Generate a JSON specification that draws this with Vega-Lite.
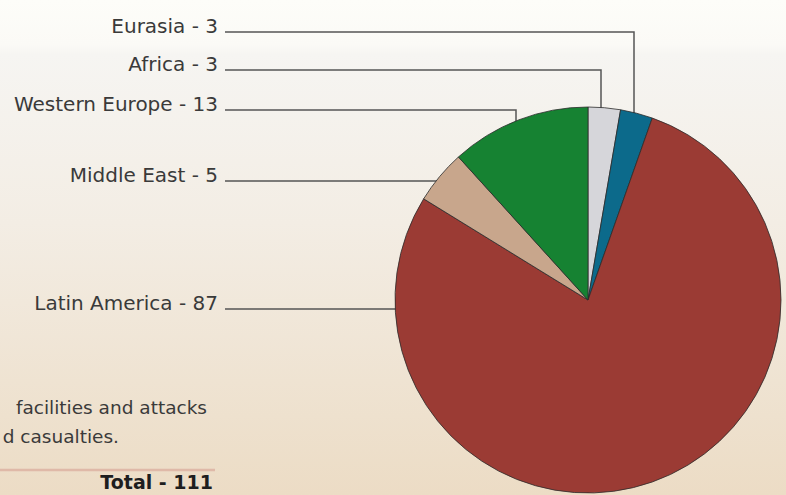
{
  "$schema": "https://vega.github.io/schema/vega-lite/v6.json",
  "width": 786,
  "height": 495,
  "autosize": "none",
  "padding": 0,
  "background": "#ede0cc",
  "config": {"view": {"stroke": null}},
  "datasets": {
    "slices": [
      {"region": "Africa", "count": 3, "order": 1, "cx": 588, "cy": 300},
      {"region": "Eurasia", "count": 3, "order": 2, "cx": 588, "cy": 300},
      {"region": "Latin America", "count": 87, "order": 3, "cx": 588, "cy": 300},
      {"region": "Middle East", "count": 5, "order": 4, "cx": 588, "cy": 300},
      {"region": "Western Europe", "count": 13, "order": 5, "cx": 588, "cy": 300}
    ],
    "leaders": [
      {"region": "Eurasia", "seq": 1, "px": 225, "py": 32},
      {"region": "Eurasia", "seq": 2, "px": 634, "py": 32},
      {"region": "Eurasia", "seq": 3, "px": 634, "py": 114},
      {"region": "Africa", "seq": 1, "px": 225, "py": 70},
      {"region": "Africa", "seq": 2, "px": 601, "py": 70},
      {"region": "Africa", "seq": 3, "px": 601, "py": 108},
      {"region": "Western Europe", "seq": 1, "px": 225, "py": 110},
      {"region": "Western Europe", "seq": 2, "px": 516, "py": 110},
      {"region": "Western Europe", "seq": 3, "px": 516, "py": 122},
      {"region": "Middle East", "seq": 1, "px": 225, "py": 181},
      {"region": "Middle East", "seq": 2, "px": 437, "py": 181},
      {"region": "Latin America", "seq": 1, "px": 225, "py": 309},
      {"region": "Latin America", "seq": 2, "px": 396, "py": 309}
    ],
    "labels": [
      {"label": "Eurasia - 3", "lx": 218, "ly": 33},
      {"label": "Africa - 3", "lx": 218, "ly": 71},
      {"label": "Western Europe - 13", "lx": 218, "ly": 111},
      {"label": "Middle East - 5", "lx": 218, "ly": 182},
      {"label": "Latin America - 87", "lx": 218, "ly": 310}
    ],
    "notes": [
      {"note": "facilities and attacks", "nx": 207, "ny": 414},
      {"note": "d casualties.", "nx": 119, "ny": 443}
    ],
    "total": [{"t": "Total - 111", "tx": 213, "ty": 489}],
    "divider": [{"x1": 0, "x2": 215, "yy": 470}]
  },
  "layer": [
    {
      "data": {"values": [{}]},
      "mark": {
        "type": "rect",
        "fill": {
          "gradient": "linear", "x1": 0, "y1": 0, "x2": 0, "y2": 1,
          "stops": [
            {"offset": 0, "color": "#fdfdf9"},
            {"offset": 0.09, "color": "#fbfaf6"},
            {"offset": 0.11, "color": "#f6f5f2"},
            {"offset": 0.45, "color": "#f3ede4"},
            {"offset": 1, "color": "#ecdcc5"}
          ]
        }
      },
      "encoding": {}
    },
    {
      "data": {"name": "leaders"},
      "mark": {"type": "line", "color": "#555555", "strokeWidth": 1.5, "interpolate": "linear"},
      "encoding": {
        "x": {"field": "px", "type": "quantitative", "scale": {"domain": [0, 786]}, "axis": null},
        "y": {"field": "py", "type": "quantitative", "scale": {"domain": [0, 495], "reverse": true}, "axis": null},
        "detail": {"field": "region"},
        "order": {"field": "seq"}
      }
    },
    {
      "data": {"name": "slices"},
      "mark": {"type": "arc", "radius": 193, "stroke": "#2b2b2b", "strokeWidth": 0.8},
      "encoding": {
        "x": {"field": "cx", "type": "quantitative", "scale": {"domain": [0, 786]}, "axis": null},
        "y": {"field": "cy", "type": "quantitative", "scale": {"domain": [0, 495], "reverse": true}, "axis": null},
        "theta": {"field": "count", "type": "quantitative", "stack": true},
        "order": {"field": "order"},
        "color": {
          "field": "region", "type": "nominal", "legend": null,
          "scale": {
            "domain": ["Africa", "Eurasia", "Latin America", "Middle East", "Western Europe"],
            "range": ["#d6d6da", "#0c6a8b", "#9b3b34", "#c8a68c", "#168232"]
          }
        }
      }
    },
    {
      "data": {"name": "labels"},
      "mark": {"type": "text", "align": "right", "baseline": "alphabetic", "font": "DejaVu Sans", "fontSize": 20, "color": "#3a3a3a"},
      "encoding": {
        "x": {"field": "lx", "type": "quantitative", "scale": {"domain": [0, 786]}, "axis": null},
        "y": {"field": "ly", "type": "quantitative", "scale": {"domain": [0, 495], "reverse": true}, "axis": null},
        "text": {"field": "label"}
      }
    },
    {
      "data": {"name": "notes"},
      "mark": {"type": "text", "align": "right", "baseline": "alphabetic", "font": "DejaVu Sans", "fontSize": 18.5, "color": "#3a3a3a"},
      "encoding": {
        "x": {"field": "nx", "type": "quantitative", "scale": {"domain": [0, 786]}, "axis": null},
        "y": {"field": "ny", "type": "quantitative", "scale": {"domain": [0, 495], "reverse": true}, "axis": null},
        "text": {"field": "note"}
      }
    },
    {
      "data": {"name": "divider"},
      "mark": {"type": "rule", "color": "#dfb9a8", "strokeWidth": 2.5},
      "encoding": {
        "x": {"field": "x1", "type": "quantitative", "scale": {"domain": [0, 786]}, "axis": null},
        "x2": {"field": "x2"},
        "y": {"field": "yy", "type": "quantitative", "scale": {"domain": [0, 495], "reverse": true}, "axis": null}
      }
    },
    {
      "data": {"name": "total"},
      "mark": {"type": "text", "align": "right", "baseline": "alphabetic", "font": "DejaVu Sans", "fontWeight": "bold", "fontSize": 19, "color": "#1e1e1e"},
      "encoding": {
        "x": {"field": "tx", "type": "quantitative", "scale": {"domain": [0, 786]}, "axis": null},
        "y": {"field": "ty", "type": "quantitative", "scale": {"domain": [0, 495], "reverse": true}, "axis": null},
        "text": {"field": "t"}
      }
    }
  ]
}
